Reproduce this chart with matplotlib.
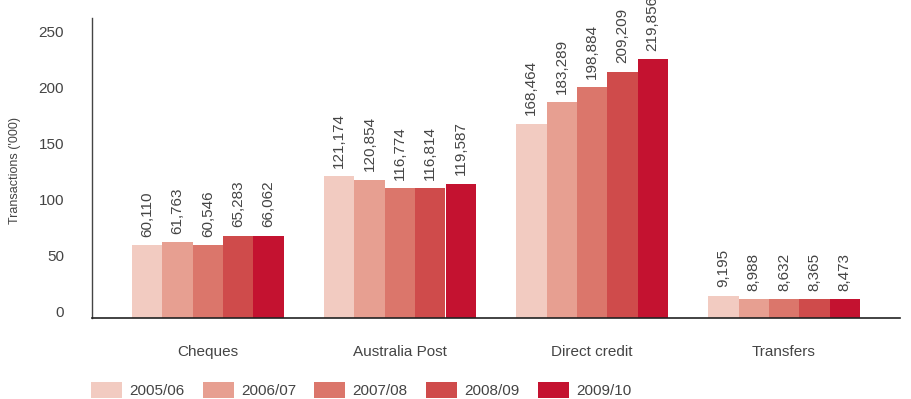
import matplotlib.pyplot as plt
import matplotlib.transforms as mtransforms
import numpy as np

plt.rcParams['font.family'] = ['Liberation Sans', 'DejaVu Sans']

CATEGORIES = ['Cheques', 'Australia Post', 'Direct credit', 'Transfers']
YEARS = ['2005/06', '2006/07', '2007/08', '2008/09', '2009/10']
COLOURS = ['#f2cbc1', '#e79f91', '#db766b', '#cf4b4b', '#c41230']

# bar heights as drawn in the chart (axis units)
HEIGHTS = {
    '2005/06': [64.3, 125.9, 173.2, 19.6],
    '2006/07': [67.0, 123.2, 192.0, 16.1],
    '2007/08': [64.3, 115.2, 205.4, 16.1],
    '2008/09': [73.2, 115.2, 219.6, 16.1],
    '2009/10': [73.2, 119.6, 230.4, 16.1],
}

# printed value labels
LABELS = {
    '2005/06': ['60,110', '121,174', '168,464', '9,195'],
    '2006/07': ['61,763', '120,854', '183,289', '8,988'],
    '2007/08': ['60,546', '116,774', '198,884', '8,632'],
    '2008/09': ['65,283', '116,814', '209,209', '8,365'],
    '2009/10': ['66,062', '119,587', '219,856', '8,473'],
}

TEXT = '#444444'
width = 0.158
x = np.arange(len(CATEGORIES))

fig = plt.figure(figsize=(9.11, 3.99), dpi=100)
ax = fig.add_axes([92 / 911, 81.5 / 399, 808 / 911, 299.5 / 399])

for i, year in enumerate(YEARS):
    pos = x + (i - 2) * width
    bars = ax.bar(pos, HEIGHTS[year], width, color=COLOURS[i], label=year, linewidth=0)
    for b, lab in zip(bars, LABELS[year]):
        ax.annotate(lab, (b.get_x() + b.get_width() / 2, b.get_height()),
                    xytext=(0, 6), textcoords='offset points',
                    rotation=90, ha='center', va='bottom',
                    fontsize=11, color=TEXT, annotation_clip=False)

ax.set_xlim(-0.604, 3.604)
ax.set_ylim(0, 267.4)
ax.set_yticks([0, 50, 100, 150, 200, 250])
ax.set_xticks(x)
ax.set_xticklabels(CATEGORIES)
ax.tick_params(axis='both', length=0, labelsize=11, colors=TEXT)
ax.tick_params(axis='x', pad=20)
ax.tick_params(axis='y', pad=20)
shift = mtransforms.ScaledTranslation(0, 6 / 100, fig.dpi_scale_trans)
for t in ax.get_yticklabels():
    t.set_transform(t.get_transform() + shift)

for s in ['top', 'right']:
    ax.spines[s].set_visible(False)
ax.spines['left'].set_color('#444444')
ax.spines['bottom'].set_color('#222222')
ax.spines['left'].set_linewidth(1.0)
ax.spines['bottom'].set_linewidth(1.2)

fig.text(15 / 911, 1 - 170 / 399, "Transactions ('000)", rotation=90,
         ha='center', va='center', fontsize=9, color=TEXT)

fig.legend(loc='lower left', bbox_to_anchor=(91 / 911, 1 / 399), ncol=5,
           frameon=False, fontsize=11, handlelength=2.03, handleheight=1.24,
           handletextpad=0.46, columnspacing=1.21, borderpad=0,
           borderaxespad=0, labelcolor=TEXT)

fig.savefig('out.png', dpi=100)
